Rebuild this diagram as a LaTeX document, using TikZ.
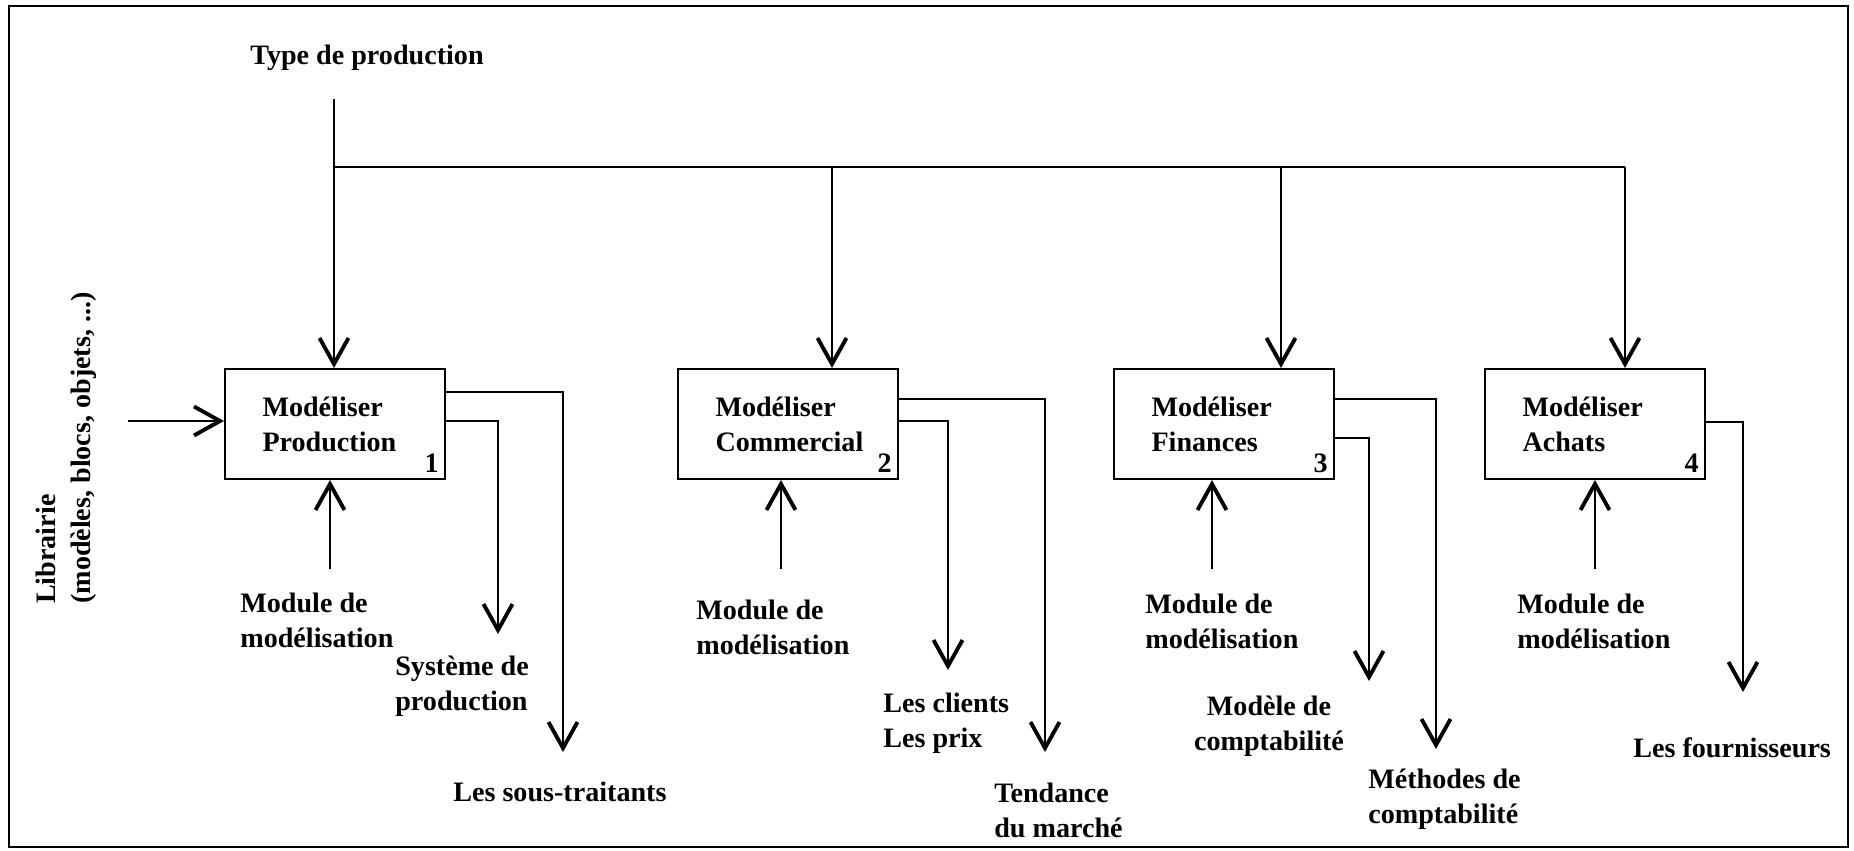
\documentclass[tikz,border=0pt]{standalone}
\usepackage{fontspec}
\setmainfont{Liberation Serif}
\usetikzlibrary{arrows.meta}

\begin{document}
\begin{tikzpicture}[x=0.02cm, y=-0.02cm, >={Straight Barb[length=5.2mm, width=5.8mm, line width=2.2pt]}]
    \tikzstyle{format} = [draw, line width=1.2pt, rectangle, minimum width=4.4cm, minimum height=2.2cm, text width=2.9cm, align=left, font=\fontsize{16}{20}\selectfont\bfseries]
    \tikzstyle{txt} = [font=\fontsize{16}{20}\selectfont\bfseries, align=left, inner sep=0pt]
    \tikzstyle{num} = [font=\fontsize{16}{20}\selectfont\bfseries, anchor=south east, inner sep=4pt]
    \tikzstyle{wire} = [->, line width=1.2pt]

    \useasboundingbox (0,0) rectangle (1854,851);
    \draw[line width=1.5pt] (9,6) rectangle (1848,847);

    \begin{scope}
        \path
          node[format] (M1) at (335,424) {Modéliser\\Production}
          node[format] (M2) at (788,424) {Modéliser\\Commercial}
          node[format] (M3) at (1224,424) {Modéliser\\Finances}
          node[format] (M4) at (1595,424) {Modéliser\\Achats}

          node[num] (N1) at (M1.south east) {1}
          node[num] (N2) at (M2.south east) {2}
          node[num] (N3) at (M3.south east) {3}
          node[num] (N4) at (M4.south east) {4}

          node[txt] (T) at (367,58) {Type de production}
          node[txt, rotate=90] (L) at (66,448) {Librairie\\(modèles, blocs, objets, ...)}

          node[txt, anchor=west] (MM1) at (240,620) {Module de\\modélisation}
          node[txt, anchor=west] (MM2) at (696,627) {Module de\\modélisation}
          node[txt, anchor=west] (MM3) at (1145,621) {Module de\\modélisation}
          node[txt, anchor=west] (MM4) at (1517,621) {Module de\\modélisation}

          node[txt, anchor=west] (SP) at (395,686) {Système de\\production}
          node[txt, anchor=west] (ST) at (453,792) {Les sous-traitants}
          node[txt, anchor=west] (CP) at (883,723) {Les clients\\Les prix}
          node[txt, anchor=west] (TM) at (994,810) {Tendance\\du marché}
          node[txt, align=center] (MC) at (1269,726) {Modèle de\\comptabilité}
          node[txt, anchor=west] (MT) at (1368,799) {Méthodes de\\comptabilité}
          node[txt, anchor=west] (FO) at (1633,748) {Les fournisseurs};

        % controle
        \coordinate (t0) at (334,99);
        \coordinate (b0) at (334,167);
        \coordinate (d2) at (832,167);
        \coordinate (d3) at (1281,167);
        \coordinate (d4) at (1625,167);
        \draw[line width=1.2pt] (b0) -- (d4);
        \draw[wire] (t0) -- (t0 |- M1.north);
        \draw[wire] (d2) -- (d2 |- M2.north);
        \draw[wire] (d3) -- (d3 |- M3.north);
        \draw[wire] (d4) -- (d4 |- M4.north);

        % entree
        \coordinate (li) at (128,421);
        \draw[wire] (li) -- (li -| M1.west);

        % mecanismes
        \coordinate (m1) at (330,569);
        \coordinate (m2) at (781,569);
        \coordinate (m3) at (1212,569);
        \coordinate (m4) at (1595,569);
        \draw[wire] (m1) -- (m1 |- M1.south);
        \draw[wire] (m2) -- (m2 |- M2.south);
        \draw[wire] (m3) -- (m3 |- M3.south);
        \draw[wire] (m4) -- (m4 |- M4.south);

        % sorties
        \coordinate (e11) at (498,634);
        \coordinate (e12) at (563,752);
        \coordinate (e21) at (948,670);
        \coordinate (e22) at (1045,752);
        \coordinate (e31) at (1369,681);
        \coordinate (e32) at (1436,749);
        \coordinate (e41) at (1743,692);
        \draw[wire] (M1.east |- 0,421) -| (e11);
        \draw[wire] (M1.east |- 0,392) -| (e12);
        \draw[wire] (M2.east |- 0,421) -| (e21);
        \draw[wire] (M2.east |- 0,399) -| (e22);
        \draw[wire] (M3.east |- 0,438) -| (e31);
        \draw[wire] (M3.east |- 0,399) -| (e32);
        \draw[wire] (M4.east |- 0,422) -| (e41);
    \end{scope}
\end{tikzpicture}
\end{document}
